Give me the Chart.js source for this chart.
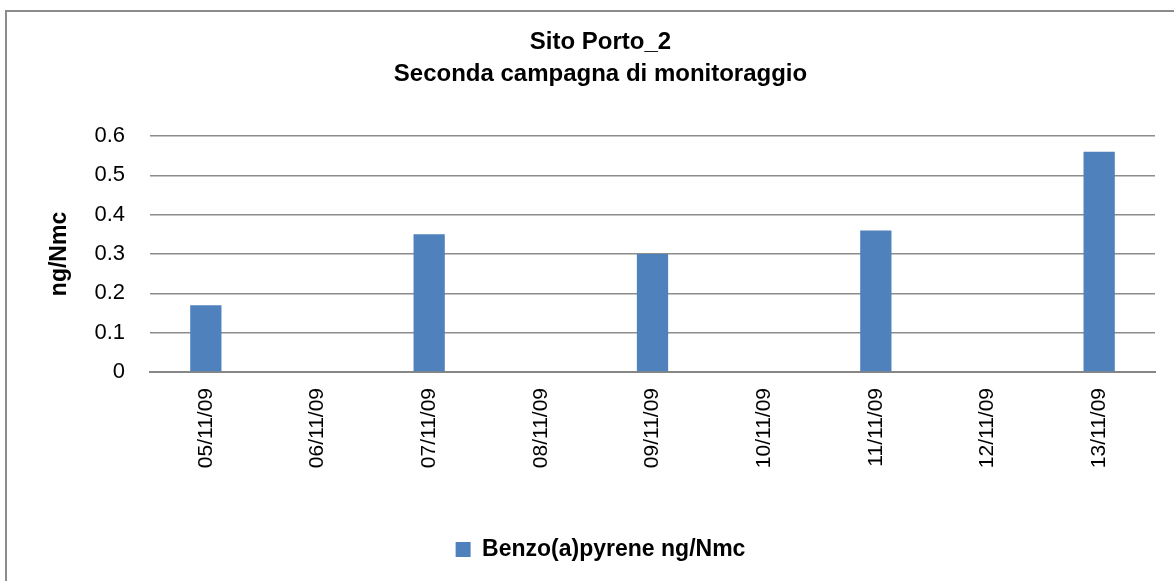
<!DOCTYPE html>
<html>
<head>
<meta charset="utf-8">
<title>Sito Porto_2</title>
<script src="https://cdn.jsdelivr.net/npm/chart.js@4.4.1/dist/chart.umd.min.js"></script>
<style>
  html, body { margin: 0; padding: 0; background: #fff; }
  #wrap { position: relative; width: 1174px; height: 581px; }
</style>
</head>
<body>
<div id="wrap"><canvas id="bapChart" width="1174" height="581"></canvas></div>
<script>
// sampling days and measured values (null = no sample that day)
const dates = ['05/11/09', '06/11/09', '07/11/09', '08/11/09', '09/11/09',
               '10/11/09', '11/11/09', '12/11/09', '13/11/09'];
const bapValues = [0.17, null, 0.35, null, 0.30, null, 0.36, null, 0.56];
const yTicks = ['0', '0.1', '0.2', '0.3', '0.4', '0.5', '0.6'];

const seriesName = 'Benzo(a)pyrene ng/Nmc';
const titleLines = ['Sito Porto_2', 'Seconda campagna di monitoraggio'];
const FONT = '"Liberation Sans", Arial, sans-serif';

// gray frame along the top and left edge of the chart
const framePlugin = {
    id: 'frame',
    beforeDraw(chart) {
        const c = chart.ctx;
        c.save();
        c.fillStyle = '#fff';
        c.fillRect(0, 0, chart.width, chart.height);
        c.strokeStyle = '#8c8c8c';
        c.lineWidth = 2;
        c.beginPath();
        c.moveTo(6, chart.height);
        c.lineTo(6, 11);
        c.lineTo(chart.width, 11);
        c.stroke();
        c.restore();
    }
};

const ctx = document.getElementById('bapChart').getContext('2d');
const chart = new Chart(ctx, {
    type: 'bar',
    data: {
        labels: dates,
        datasets: [{
            label: seriesName,
            data: bapValues,
            backgroundColor: '#4f81bd',
            borderWidth: 0,
            barPercentage: 0.28,
            categoryPercentage: 1.0
        }]
    },
    options: {
        responsive: false,
        animation: false,
        layout: { padding: { left: 46, right: 19, top: 0, bottom: 10 } },
        plugins: {
            title: {
                display: true,
                text: titleLines,
                color: '#000',
                font: { family: FONT, size: 24, weight: 'bold', lineHeight: 1.333 },
                padding: { top: 26, bottom: 46 }
            },
            legend: {
                position: 'bottom',
                labels: {
                    color: '#000',
                    font: { family: FONT, size: 23, weight: 'bold' },
                    boxWidth: 15,
                    boxHeight: 15,
                    padding: 10
                }
            },
            tooltip: { enabled: false }
        },
        scales: {
            x: {
                grid: { display: false, drawTicks: false },
                border: { display: true, color: '#868686', width: 2 },
                ticks: {
                    color: '#000',
                    font: { family: FONT, size: 21 },
                    minRotation: 90,
                    maxRotation: 90,
                    padding: 16
                },
                afterFit(scale) { scale.height = 156; }
            },
            y: {
                min: 0,
                max: 0.6,
                grid: { color: '#8c8c8c', lineWidth: 1.5, drawTicks: false },
                border: { display: false },
                ticks: {
                    stepSize: 0.1,
                    color: '#000',
                    font: { family: FONT, size: 22 },
                    padding: 25,
                    callback: (v, i) => yTicks[i]
                },
                title: {
                    display: true,
                    text: 'ng/Nmc',
                    color: '#000',
                    font: { family: FONT, size: 23, weight: 'bold' },
                    padding: 0
                },
                afterFit(scale) { scale.width = 104; }
            }
        }
    },
    plugins: [framePlugin]
});
</script>
</body>
</html>
